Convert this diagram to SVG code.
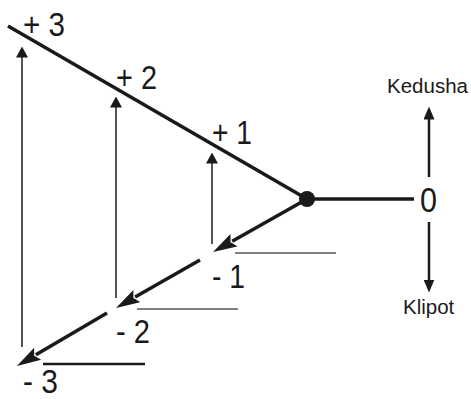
<svg xmlns="http://www.w3.org/2000/svg" width="471" height="399" viewBox="0 0 471 399">
<style>
text{font-family:"Liberation Sans",Arial,sans-serif;fill:#1a1a1a}
.num{font-size:33px}
.lbl{font-size:20.5px}
.thick{stroke:#1a1a1a;stroke-width:3.5;fill:none}
.thin{stroke:#1a1a1a;stroke-width:1.5;fill:none}
.mid{stroke:#1a1a1a;stroke-width:2.5;fill:none}
.base{stroke:#555;stroke-width:1.5}
</style>
<defs>
<marker id="big" markerUnits="userSpaceOnUse" markerWidth="24" markerHeight="16" viewBox="0 0 24 16" refX="2" refY="8" orient="auto">
<path d="M0,1 L24,8 L0,15 L4,8 z" fill="#1a1a1a"/>
</marker>
<marker id="small" markerUnits="userSpaceOnUse" markerWidth="11" markerHeight="12" viewBox="0 0 11 12" refX="0.5" refY="6" orient="auto">
<path d="M0,0 L11,6 L0,12 z" fill="#1a1a1a"/>
</marker>
<marker id="med" markerUnits="userSpaceOnUse" markerWidth="13" markerHeight="11" viewBox="0 0 13 11" refX="0.5" refY="5.5" orient="auto">
<path d="M0,0 L13,5.5 L0,11 z" fill="#1a1a1a"/>
</marker>
</defs>
<g id="connectors">
<line class="thick" x1="8" y1="26" x2="307" y2="199"/>
<line class="thick" x1="307" y1="199" x2="414" y2="199"/>
<line class="thick" x1="307" y1="199" x2="232.2" y2="241.2" marker-end="url(#big)"/>
<line class="thick" x1="200" y1="260" x2="135.1" y2="297.1" marker-end="url(#big)"/>
<line class="thick" x1="107" y1="313" x2="35.9" y2="354.8" marker-end="url(#big)"/>
<line class="thin" x1="22" y1="347" x2="22" y2="57" marker-end="url(#small)"/>
<line class="thin" x1="116" y1="298" x2="116" y2="107" marker-end="url(#small)"/>
<line class="thin" x1="212" y1="244" x2="212" y2="163" marker-end="url(#small)"/>
<line class="mid" x1="429" y1="177" x2="429" y2="119" marker-end="url(#med)"/>
<line class="mid" x1="429" y1="222" x2="429" y2="280" marker-end="url(#med)"/>
<line class="base" x1="235" y1="253" x2="336" y2="253"/>
<line class="base" x1="137" y1="309" x2="238" y2="309"/>
<line class="thick" style="stroke-width:2.5" x1="43" y1="364" x2="145" y2="364"/>
</g>
<g id="origin"><circle cx="307" cy="199" r="8" fill="#1a1a1a"/></g>
<g id="p3"><text class="num" x="23" y="36" textLength="42" lengthAdjust="spacingAndGlyphs">+ 3</text></g>
<g id="p2"><text class="num" x="116" y="89" textLength="41" lengthAdjust="spacingAndGlyphs">+ 2</text></g>
<g id="p1"><text class="num" x="212" y="144" textLength="40" lengthAdjust="spacingAndGlyphs">+ 1</text></g>
<g id="m1"><text class="num" x="212" y="288" textLength="33" lengthAdjust="spacingAndGlyphs">- 1</text></g>
<g id="m2"><text class="num" x="116" y="343" textLength="34" lengthAdjust="spacingAndGlyphs">- 2</text></g>
<g id="m3"><text class="num" x="23" y="393" textLength="35" lengthAdjust="spacingAndGlyphs">- 3</text></g>
<g id="zero"><text class="num" x="420" y="212" style="font-size:35px" textLength="17" lengthAdjust="spacingAndGlyphs">0</text></g>
<g id="kedusha"><text class="lbl" x="387" y="93">Kedusha</text></g>
<g id="klipot"><text class="lbl" x="403" y="314">Klipot</text></g>
</svg>
